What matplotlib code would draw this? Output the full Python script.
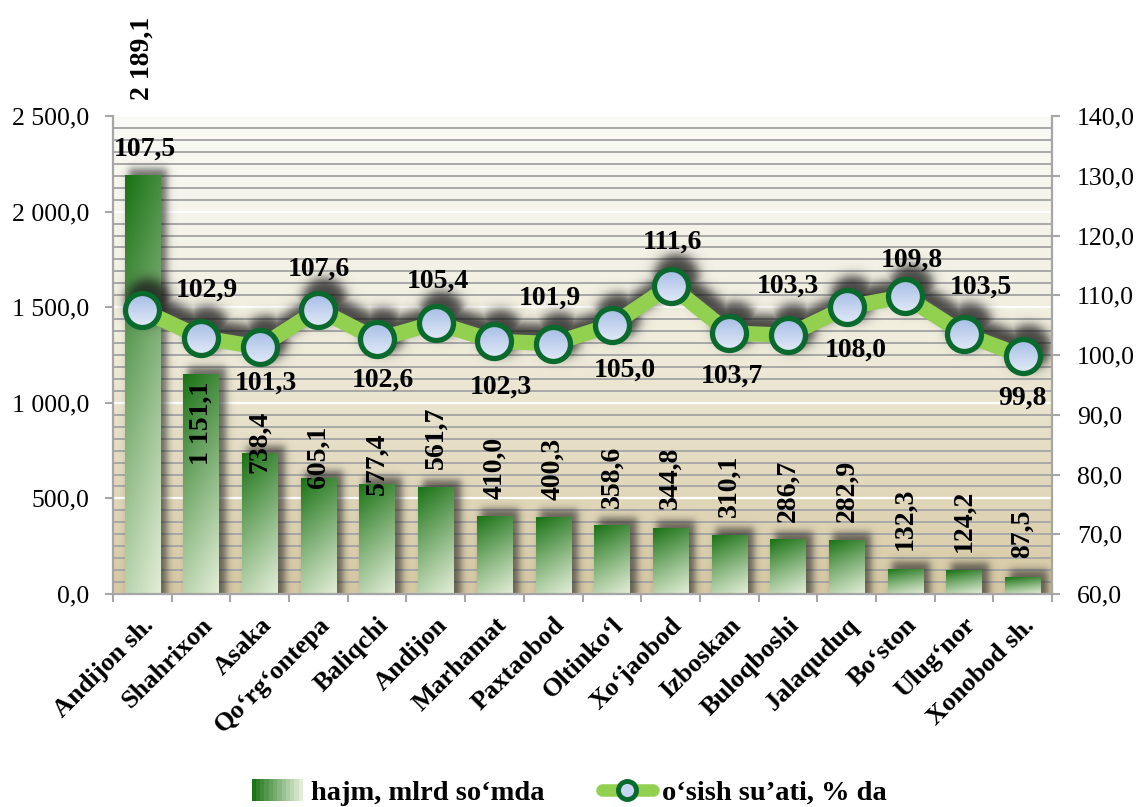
import numpy as np
import matplotlib
matplotlib.use("Agg")
import matplotlib.pyplot as plt
import matplotlib.transforms as mtrans
from matplotlib.colors import to_rgb
from matplotlib.patches import Rectangle, Circle
from matplotlib.lines import Line2D
from matplotlib.legend_handler import HandlerBase

# ---------------- data ----------------
categories = ["Andijon sh.", "Shahrixon", "Asaka", "Qo‘rg‘ontepa", "Baliqchi",
              "Andijon", "Marhamat", "Paxtaobod", "Oltinko‘l", "Xo‘jaobod",
              "Izboskan", "Buloqboshi", "Jalaquduq", "Bo‘ston", "Ulug‘nor",
              "Xonobod sh."]
volume = [2189.1, 1151.1, 738.4, 605.1, 577.4, 561.7, 410.0, 400.3, 358.6,
          344.8, 310.1, 286.7, 282.9, 132.3, 124.2, 87.5]
growth = [107.5, 102.9, 101.3, 107.6, 102.6, 105.4, 102.3, 101.9, 105.0,
          111.6, 103.7, 103.3, 108.0, 109.8, 103.5, 99.8]
left_ticks = [0, 500, 1000, 1500, 2000, 2500]
right_ticks = [60, 70, 80, 90, 100, 110, 120, 130, 140]
series_names = ["hajm, mlrd so‘mda", "o‘sish su’ati, % da"]

# ---------------- layout (label nudges, in pixels) ----------------
bar_label_gap_px = [75, -91, -20, -10, -11, 18, 17, 17, 17, 19, 18, 17, 18, 19, 18, 19]
line_label_off_px = [(3, 161), (6, 48), (6, -36), (0, 40), (6, -41), (2, 42),
                     (6, -46), (-3, 45), (13, -45), (2, 44), (3, -43), (0, 49),
                     (9, -43), (7, 36), (17, 47), (0, -42)]

plt.rcParams['font.family'] = ['Liberation Serif', 'DejaVu Serif']

W, H = 1138, 807
PX = 0.72  # points per pixel at dpi 100
fig = plt.figure(figsize=(W / 100, H / 100), dpi=100)
fig.patch.set_facecolor('white')
L, R, B, T = 113, 1052, 594, 116
ax = fig.add_axes([L / W, 1 - B / H, (R - L) / W, (B - T) / H])
ax2 = ax.twinx()

n = len(categories)
x = np.arange(n)
xlim = (-0.5, n - 0.5)
ylim = (left_ticks[0], left_ticks[-1])
ylim2 = (right_ticks[0], right_ticks[-1])


def fmt(v, pos=None):
    return f"{v:,.1f}".replace(",", " ").replace(".", ",")


def soft(u, s):
    return 0.5 * (1 + np.tanh(u / s))


def set_limits():
    ax.set_xlim(*xlim)
    ax.set_ylim(*ylim)
    ax2.set_ylim(*ylim2)


set_limits()

# ---------------- background gradient ----------------
stops = [(0.0, '#FAFAF6'), (0.45, '#F1EEDE'), (1.0, '#D7C9A4')]
tt = np.linspace(0, 1, 300)
cols = np.zeros((300, 3))
for k in range(3):
    cols[:, k] = np.interp(tt, [s[0] for s in stops], [to_rgb(s[1])[k] for s in stops])
bg = np.repeat(cols[:, None, :], 4, axis=1)
ax.imshow(bg, extent=[xlim[0], xlim[1], ylim[0], ylim[1]], origin='upper',
          aspect='auto', zorder=-10, interpolation='bilinear')

# ---------------- grid ----------------
minor_step = (ylim[1] - ylim[0]) / ((ylim2[1] - ylim2[0]) / 2)
ax.set_yticks(left_ticks)
ax.set_yticks(np.arange(ylim[0], ylim[1] + 1e-6, minor_step), minor=True)
ax.set_axisbelow(True)
ax.yaxis.grid(True, which='minor', color='#A8A8A8', lw=1.4)
ax.yaxis.grid(True, which='major', color='white', lw=1.6)
ax.tick_params(axis='y', which='minor', length=0)

# ---------------- bars ----------------
dx_px = (xlim[1] - xlim[0]) / (R - L)
dy_px = (ylim[1] - ylim[0]) / (B - T)
bar_w = 0.6

# bar shadows
for xi, v in zip(x, volume):
    x0 = xi - bar_w / 2 + 4 * dx_px
    x1 = xi + bar_w / 2 + 7 * dx_px
    top = v + 7 * dy_px
    sx, sy = 4.5 * dx_px, 4.5 * dy_px
    gx = np.linspace(x0 - 3 * sx, x1 + 3 * sx, 60)
    gy = np.linspace(0, top + 3 * sy, 200)
    a = 0.65 * soft(top - gy, sy)[:, None] * (soft(gx - x0, sx) * soft(x1 - gx, sx))[None, :]
    rgba = np.zeros((len(gy), len(gx), 4))
    rgba[..., :3] = 0.15
    rgba[..., 3] = a
    ax.imshow(rgba, extent=[gx[0], gx[-1], gy[0], gy[-1]], origin='lower',
              aspect='auto', zorder=1.5, interpolation='bilinear')

bars = ax.bar(x, volume, width=bar_w, color='none', edgecolor='none', zorder=2)
gtop = np.array(to_rgb('#1D7418'))
gbot = np.array(to_rgb('#E2EDD6'))
gyy = np.linspace(0, 1, 80)[:, None]
gxx = np.linspace(0, 1, 40)[None, :]
tg = np.clip(0.8 * gyy ** 1.1 + 0.22 * (1 - gxx), 0, 1)
grad = gbot + (gtop - gbot) * tg[..., None]
for b in bars:
    bx, bw, bh = b.get_x(), b.get_width(), b.get_height()
    im = ax.imshow(grad, extent=[bx, bx + bw, 0, bh], origin='lower',
                   aspect='auto', zorder=2, interpolation='bilinear')
    im.set_clip_path(b)

for xi, v, g in zip(x, volume, bar_label_gap_px):
    ax.annotate(fmt(v), xy=(xi, v), xytext=(0, g * PX), textcoords='offset points',
                rotation=90, ha='center', va='bottom', fontsize=20,
                fontweight='bold', zorder=8, annotation_clip=False)

set_limits()

# ---------------- line shadow (soft) ----------------
pts = ax2.transData.transform(np.column_stack([x, growth]))
shadow_off = np.array([6.0, 9.0])
sp = pts + shadow_off
gxp = np.arange(L, R) + 0.5
gyp = (H - B) + np.arange(B - T) + 0.5
GX, GY = np.meshgrid(gxp, gyp)
dline = np.full(GX.shape, np.inf)
for i in range(len(sp) - 1):
    p, q = sp[i], sp[i + 1]
    d = q - p
    t = np.clip(((GX - p[0]) * d[0] + (GY - p[1]) * d[1]) / (d @ d), 0, 1)
    dist = np.hypot(GX - (p[0] + t * d[0]), GY - (p[1] + t * d[1]))
    dline = np.minimum(dline, dist)
dline = dline - 10
dmark = np.full(GX.shape, np.inf)
for p in sp:
    dmark = np.minimum(dmark, np.hypot(GX - p[0], GY - p[1]) - 22)
dd = np.minimum(dline, dmark)
sh = np.zeros(GX.shape + (4,))
sh[..., :3] = 0.1
sh[..., 3] = 0.8 * soft(-dd, 6.5)
ax.imshow(sh, extent=[xlim[0], xlim[1], ylim[0], ylim[1]], origin='lower',
          aspect='auto', zorder=3, interpolation='bilinear')
set_limits()

# ---------------- line ----------------
line_color = '#92D050'
ring_color = '#0A6A2E'
ax2.plot(x, growth, color=line_color, lw=11, solid_joinstyle='round', zorder=3)
# gradient marker faces
mface = np.linspace(0, 1, 40)[:, None]
mtop = np.array(to_rgb('#A6BDE6'))
mbot = np.array(to_rgb('#E2EAF7'))
mimg = np.repeat((mbot + (mtop - mbot) * mface[..., None]), 4, axis=1)
r_px = 17
for p in pts:
    circ = Circle((p[0], p[1]), r_px, transform=mtrans.IdentityTransform(),
                  facecolor='none', edgecolor='none')
    ext_lo = ax2.transData.inverted().transform([p[0] - r_px, p[1] - r_px])
    ext_hi = ax2.transData.inverted().transform([p[0] + r_px, p[1] + r_px])
    im = ax2.imshow(mimg, extent=[ext_lo[0], ext_hi[0], ext_lo[1], ext_hi[1]],
                    origin='lower', aspect='auto', zorder=4, interpolation='bilinear')
    im.set_clip_path(circ)
ax2.plot(x, growth, linestyle='none', marker='o', ms=24.5, mfc='none',
         mec=ring_color, mew=3.8, zorder=5)

for xi, v, (ox, oy) in zip(x, growth, line_label_off_px):
    ax2.annotate(fmt(v), xy=(xi, v), xytext=(ox * PX, oy * PX),
                 textcoords='offset points', ha='center', va='center',
                 fontsize=20, fontweight='bold', zorder=10, annotation_clip=False)

set_limits()
ax2.set_yticks(right_ticks)

# ---------------- axes styling ----------------
spine_c = '#A6A6A6'
for a_ in (ax, ax2):
    a_.spines['top'].set_visible(False)
    for s in ('left', 'right', 'bottom'):
        a_.spines[s].set_color(spine_c)
        a_.spines[s].set_linewidth(1.6)
ax.spines['right'].set_visible(False)
ax2.spines['left'].set_visible(False)
ax2.spines['bottom'].set_visible(False)

ax.yaxis.set_major_formatter(plt.FuncFormatter(fmt))
ax2.yaxis.set_major_formatter(plt.FuncFormatter(fmt))
ax.tick_params(axis='y', which='major', length=6, width=1.5, color=spine_c,
               labelsize=18.5, pad=11)
ax2.tick_params(axis='y', which='major', length=6, width=1.5, color=spine_c,
                labelsize=18.5, pad=12)

ax.set_xticks(x)
ax.set_xticks(np.arange(xlim[0], xlim[1] + 1e-6, 1.0), minor=True)
ax.set_xticklabels(categories, rotation=45, ha='right', va='top',
                   rotation_mode='anchor', fontweight='bold', fontsize=19)
ax.tick_params(axis='x', which='major', length=0, pad=14)
ax.tick_params(axis='x', which='minor', length=6, width=1.5, color=spine_c)

# ---------------- legend ----------------
class GradHandler(HandlerBase):
    def create_artists(self, legend, orig, xd, yd, width, height, fontsize, trans):
        arts = []
        k = 12
        for i in range(k):
            t = i / (k - 1)
            c = gtop + (gbot - gtop) * t
            arts.append(Rectangle((xd + width * i / k, yd - 1), width / k + 0.4,
                                  height + 2, facecolor=c, edgecolor='none',
                                  transform=trans))
        return arts


bar_proxy = Rectangle((0, 0), 1, 1)
line_proxy = Line2D([], [], color=line_color, lw=9, marker='o', ms=13,
                    mfc='#C6D6F0', mec=ring_color, mew=3.5,
                    solid_capstyle='round')
fig.legend(handles=[bar_proxy, line_proxy], labels=series_names,
           handler_map={Rectangle: GradHandler()}, loc='center',
           bbox_to_anchor=(0.5, 1 - 793 / H), ncol=2, frameon=False,
           prop=dict(weight='bold', size=20.5), handlelength=1.8,
           columnspacing=2.0, handletextpad=0.3)

fig.savefig("out.png", dpi=100)
